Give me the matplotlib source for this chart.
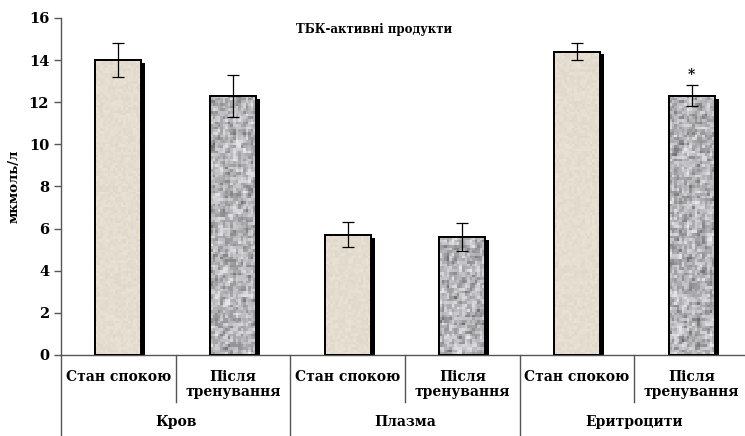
import numpy as np
import matplotlib
matplotlib.use("Agg")
import matplotlib.pyplot as plt
import matplotlib.patheffects as pe

# ─── Data ─────────────────────────────────────────────────────────────
groups = ["Кров", "Плазма", "Еритроцити"]
conditions = ["Стан спокою", "Після\nтренування"]
values = [14.0, 12.3, 5.7, 5.6, 14.4, 12.3]
errors = [0.8, 1.0, 0.6, 0.65, 0.4, 0.5]
significant = [False, False, False, False, False, True]

FONT = "DejaVu Serif"
plt.rcParams.update({
    "font.family": FONT,
    "font.weight": "bold",
    "axes.labelweight": "bold",
})

BEIGE = "#e4ddcf"
GRAY = "#a9a9a9"

fig = plt.figure(figsize=(7.45, 4.36), dpi=100)
ax = fig.add_axes([0.0819, 0.186, 0.9235, 0.773])

x = np.arange(len(values))
bar_w = 0.4
rng = np.random.default_rng(7)


def texture(kind, height):
    # grain roughly 2-3 px on screen
    rows = max(int(height * 8), 4)
    n = rng.random((rows, 18))
    if kind == "beige":
        base = np.array([0.895, 0.868, 0.815])
        g = 1.0 + (n - 0.5) * 0.05
        return np.clip(base[None, None, :] * g[..., None], 0, 1)
    # granite look: light grey with darker speckles
    s = (2 * n + np.roll(n, 1, 0) + np.roll(n, 1, 1)) / 4
    s = (s - s.min()) / (s.max() - s.min())
    v = 0.42 + 0.5 * s ** 0.8
    return np.stack([v, v, v * 1.02], axis=-1).clip(0, 1)


for i, (xi, v) in enumerate(zip(x, values)):
    kind = "beige" if i % 2 == 0 else "gray"
    bar = ax.bar(xi, v, width=bar_w, color=BEIGE if kind == "beige" else GRAY,
                 edgecolor="black", linewidth=1.4, zorder=2)[0]
    bar.set_path_effects([pe.SimplePatchShadow(offset=(3, -2), shadow_rgbFace="black", alpha=1.0),
                          pe.Normal()])
    im = ax.imshow(texture(kind, v), extent=(xi - bar_w / 2, xi + bar_w / 2, 0, v),
                   aspect="auto", interpolation="nearest", zorder=2.5)
    im.set_clip_path(bar)
    ax.bar(xi, v, width=bar_w, facecolor="none", edgecolor="black", linewidth=1.4, zorder=3)

ax.errorbar(x, values, yerr=errors, fmt="none", ecolor="black", elinewidth=0.9,
            capsize=4, capthick=0.9, zorder=4)

for xi, v, e, s in zip(x, values, errors, significant):
    if s:
        ax.text(xi, v + e + 0.15, "*", ha="center", va="bottom", fontsize=10)

ax.set_xlim(-0.5, len(values) - 0.5)
ax.set_ylim(0, 16)
ax.set_yticks(np.arange(0, 17, 2))
ax.tick_params(axis="y", direction="out", length=5, width=1, color="#555555", labelsize=10.5)
ax.set_xticks([])
for sp in ["top", "right"]:
    ax.spines[sp].set_visible(False)
ax.spines["left"].set_color("#555555")
ax.spines["bottom"].set_color("#555555")
ax.spines["left"].set_linewidth(1)
ax.spines["bottom"].set_linewidth(1)

ax.set_ylabel("мкмоль/л", fontsize=9.5, labelpad=6)
ax.text(0.455, 0.985, "ТБК-активні продукти", transform=ax.transAxes,
        ha="center", va="top", fontsize=8.5)

# category labels and separators below the axis
trans = ax.get_xaxis_transform()
for i, xi in enumerate(x):
    ax.text(xi, -0.045, conditions[i % 2], transform=trans, ha="center", va="top",
            fontsize=10, linespacing=1.05)
for b in np.arange(len(values) + 1) - 0.5:
    low = -0.24 if (b + 0.5) % 2 == 0 else -0.14
    ax.plot([b, b], [0, low], transform=trans, color="#555555", lw=1, clip_on=False)
for g, name in enumerate(groups):
    ax.text(2 * g + 0.5, -0.2, name, transform=trans, ha="center", va="center", fontsize=10)

fig.savefig("out.png", dpi=100)
